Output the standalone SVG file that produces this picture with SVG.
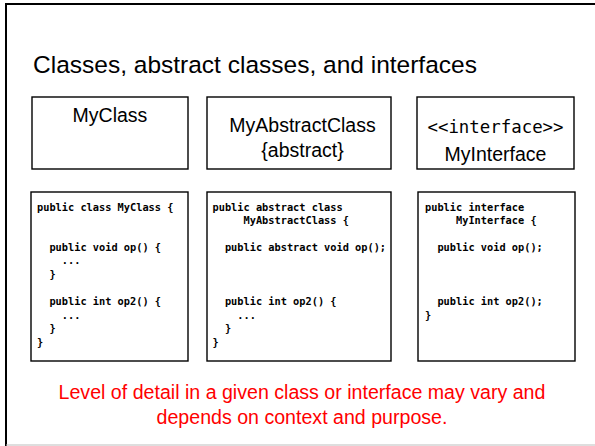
<svg xmlns="http://www.w3.org/2000/svg" width="595" height="446" viewBox="0 0 595 446">
  <style>
    .frame { stroke: #000; stroke-width: 2; fill: none; }
    .box { fill: #fff; stroke: #000; stroke-width: 1.4; }
    .title { font-family: "Liberation Sans", Arial, sans-serif; font-size: 24.5px; fill: #000; }
    .label { font-family: "Liberation Sans", Arial, sans-serif; font-size: 19.5px; fill: #000; text-anchor: middle; }
    .stereo { font-family: "DejaVu Sans Mono", monospace; font-size: 17.4px; fill: #000; text-anchor: middle; }
    .code { font-family: "DejaVu Sans Mono", "Liberation Mono", monospace; font-size: 10.3px; font-weight: bold; fill: #000; white-space: pre; }
    .note { font-family: "Liberation Sans", Arial, sans-serif; font-size: 19.6px; fill: #ff0000; text-anchor: middle; }
  </style>

  <!-- slide background and frame edges -->
  <rect x="0" y="0" width="595" height="446" fill="#fff"/>
  <line class="frame" x1="5" y1="4" x2="595" y2="4"/>
  <line class="frame" x1="6" y1="3" x2="6" y2="446"/>
  <line x1="6" y1="445" x2="595" y2="445" stroke="#bdbdbd" stroke-width="1.2"/>

  <text class="title" x="33" y="73">Classes, abstract classes, and interfaces</text>

  <!-- UML notation boxes -->
  <g id="uml-myclass">
    <rect class="box" x="32" y="97" width="156" height="72"/>
    <text class="label" x="110" y="122">MyClass</text>
  </g>
  <g id="uml-myabstractclass">
    <rect class="box" x="207" y="97" width="184" height="72"/>
    <text class="label" x="302.5" y="132">MyAbstractClass</text>
    <text class="label" x="302.5" y="157">{abstract}</text>
  </g>
  <g id="uml-myinterface">
    <rect class="box" x="417" y="97" width="157" height="72"/>
    <text class="stereo" x="495.5" y="133">&lt;&lt;interface&gt;&gt;</text>
    <text class="label" x="495.5" y="161">MyInterface</text>
  </g>

  <!-- Java source boxes -->
  <g id="code-myclass">
    <rect class="box" x="31" y="192" width="157" height="169"/>
    <text class="code" x="37" y="210.5">public class MyClass {</text>
    <text class="code" x="49.4" y="250.5">public void op() {</text>
    <text class="code" x="61.8" y="264">...</text>
    <text class="code" x="49.4" y="277.5">}</text>
    <text class="code" x="49.4" y="305">public int op2() {</text>
    <text class="code" x="61.8" y="318.5">...</text>
    <text class="code" x="49.4" y="332">}</text>
    <text class="code" x="37" y="346">}</text>
  </g>
  <g id="code-myabstractclass">
    <rect class="box" x="207" y="192" width="184" height="169"/>
    <text class="code" x="212.5" y="210.5">public abstract class</text>
    <text class="code" x="243.5" y="224">MyAbstractClass {</text>
    <text class="code" x="224.9" y="250.5">public abstract void op();</text>
    <text class="code" x="224.9" y="305">public int op2() {</text>
    <text class="code" x="237.3" y="318.5">...</text>
    <text class="code" x="224.9" y="332">}</text>
    <text class="code" x="212.5" y="346">}</text>
  </g>
  <g id="code-myinterface">
    <rect class="box" x="418" y="192" width="157" height="169"/>
    <text class="code" x="425" y="210.5">public interface</text>
    <text class="code" x="456" y="224">MyInterface {</text>
    <text class="code" x="437.4" y="250.5">public void op();</text>
    <text class="code" x="437.4" y="305">public int op2();</text>
    <text class="code" x="425" y="318.5">}</text>
  </g>

  <text class="note" x="302" y="399">Level of detail in a given class or interface may vary and</text>
  <text class="note" x="302" y="424">depends on context and purpose.</text>
</svg>
